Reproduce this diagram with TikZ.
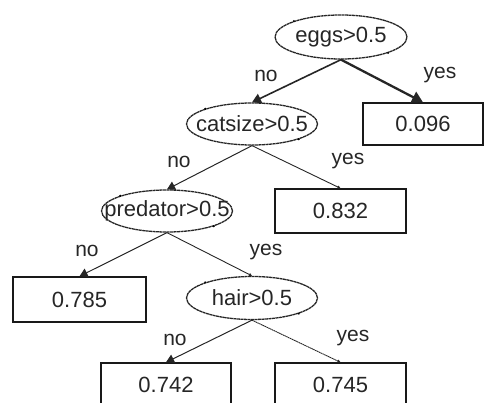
\documentclass[tikz,border=0pt]{standalone}
\usepackage{fontspec}
\setmainfont{Liberation Sans}
\usetikzlibrary{arrows.meta,shapes.geometric}
% label set in a zero-width box so the ellipse keeps its given size
\newcommand{\splitlabel}[1]{\makebox[0pt][c]{#1}}
\tikzset{
  split/.style={ellipse, draw=black!85, line width=1.3pt, dash pattern=on 3pt off 0.5pt,
    inner sep=0pt, font=\fontsize{22}{24}\selectfont, text=black!85},
  leaf/.style={rectangle, draw=black!90, line width=1.4pt, inner sep=0pt,
    font=\fontsize{22}{24}\selectfont, text=black!85},
  elabel/.style={font=\fontsize{21}{23}\selectfont, text=black!85, inner sep=0pt},
  branch/.style={draw=black!85, line width=1pt, -{Triangle[length=8pt,width=9pt]}},
  thinbranch/.style={draw=black!85, line width=0.9pt, -{Triangle[length=3pt,width=3pt]}},
  corner/.style={fill=black}
}
\begin{document}
\begin{tikzpicture}[x=1pt,y=-1pt]
\useasboundingbox (0,0) rectangle (485,403);

% split nodes
\node[split, minimum width=132pt, minimum height=44pt] (eggs) at (341,37) {\splitlabel{eggs>0.5}};
\node[split, minimum width=131pt, minimum height=42pt] (catsize) at (252,124) {\splitlabel{catsize>0.5}};
\node[split, minimum width=131pt, minimum height=42pt] (predator) at (167,211) {\splitlabel{predator>0.5}};
\node[split, minimum width=131pt, minimum height=43pt] (hair) at (252,298) {\splitlabel{hair>0.5}};

% leaf nodes
\node[leaf, minimum width=120pt, minimum height=42pt] (l096) at (423,124) {0.096};
\node[leaf, minimum width=131pt, minimum height=44pt] (l832) at (340.5,211) {0.832};
\node[leaf, minimum width=133pt, minimum height=45pt] (l785) at (79.5,299.5) {0.785};
\node[leaf, minimum width=130pt, minimum height=44pt] (l742) at (166,385) {0.742};
\node[leaf, minimum width=131pt, minimum height=44pt] (l745) at (340.5,385) {0.745};

% corner marks of the split nodes
\foreach \n in {eggs,catsize,predator,hair}{
  \fill[corner] (\n.north west) circle (1.1pt);
  \fill[corner] (\n.south east) circle (1.1pt);
}

% branches
\draw[branch, line width=1.6pt, -{Triangle[length=9pt,width=10pt]}] (eggs.south) -- (catsize.north);
\draw[branch, line width=2.3pt, -{Triangle[length=11pt,width=12pt]}] (eggs.south) -- (l096.north);
\draw[branch] (catsize.south) -- (predator.north);
\draw[thinbranch] (catsize.south) -- (l832.north);
\draw[branch] (predator.south) -- (l785.north);
\draw[thinbranch] (predator.south) -- (hair.north);
\draw[branch] (hair.south) -- (l742.north);
\draw[thinbranch, dash pattern=on 1.5pt off 0.5pt] (hair.south) -- (l745.north);

% branch labels
\node[elabel] (n1) at (266,76) {no};
\node[elabel] (y1) at (440,75) {yes};
\node[elabel] (n2) at (179,162) {no};
\node[elabel] (y2) at (348,161) {yes};
\node[elabel] (n3) at (87,251) {no};
\node[elabel] (y3) at (266,252) {yes};
\node[elabel] (n4) at (175,340) {no};
\node[elabel] (y4) at (353,338) {yes};
\end{tikzpicture}
\end{document}
